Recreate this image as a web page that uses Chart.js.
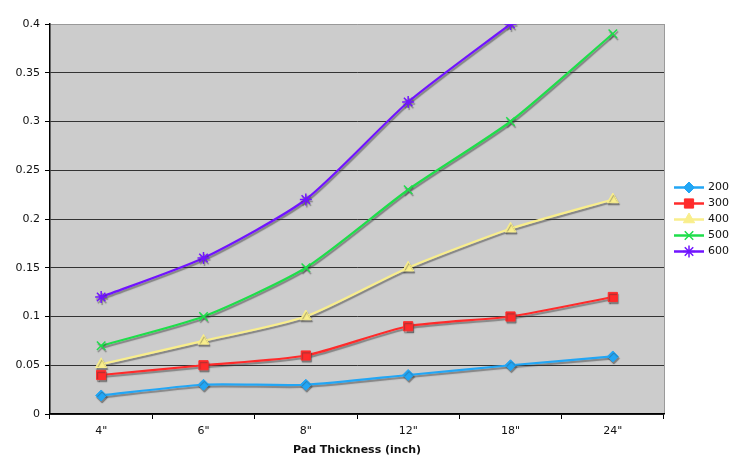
<!DOCTYPE html>
<html>
<head>
<meta charset="utf-8">
<script src="https://cdn.jsdelivr.net/npm/chart.js@4.4.1/dist/chart.umd.min.js"></script>
<style>
  html, body { margin: 0; padding: 0; background: #ffffff; }
  canvas { display: block; }
</style>
</head>
<body>
<canvas id="chart" width="739" height="457"></canvas>
<script>
// Pad thickness categories and measured values per load series
const thicknesses = ['4"', '6"', '8"', '12"', '18"', '24"'];
const series200 = [0.019, 0.03, 0.03, 0.04, 0.05, 0.059];
const series300 = [0.04, 0.05, 0.06, 0.09, 0.1, 0.12];
const series400 = [0.051, 0.075, 0.1, 0.15, 0.19, 0.22];
const series500 = [0.07, 0.1, 0.15, 0.23, 0.3, 0.39];
const series600 = [0.12, 0.16, 0.22, 0.32, 0.4, null];
const seriesNames = ['200', '300', '400', '500', '600'];
const yTickValues = [0, 0.05, 0.1, 0.15, 0.2, 0.25, 0.3, 0.35, 0.4];
const xTitle = 'Pad Thickness (inch)';

const FONT = 'DejaVu Sans, Verdana, sans-serif';

const styles = [
  { color: '#22a6f5', point: 'rectRot',  radius: 5.5, bw: 1 },
  { color: '#ff2b2b', point: 'rect',     radius: 6.5, bw: 1 },
  { color: '#f9ee8c', point: 'triangle', radius: 6.5, bw: 1 },
  { color: '#1ede4a', point: 'crossRot', radius: 6,   bw: 1.5 },
  { color: '#7114ff', point: 'star',     radius: 6,   bw: 1.5 }
];

const allValues = [series200, series300, series400, series500, series600];

const datasets = allValues.map((vals, i) => ({
  label: seriesNames[i],
  data: vals,
  borderColor: styles[i].color,
  backgroundColor: styles[i].color,
  borderWidth: 2.25,
  tension: 0.22,
  pointStyle: styles[i].point,
  pointRadius: styles[i].radius,
  pointHoverRadius: styles[i].radius,
  pointBackgroundColor: styles[i].color,
  pointBorderColor: styles[i].color,
  pointBorderWidth: styles[i].bw,
  spanGaps: false,
  fill: false
}));

// Grey plot background with a light frame on the right
const plotBackground = {
  id: 'plotBackground',
  beforeDraw(chart) {
    const { ctx, chartArea: a } = chart;
    ctx.save();
    ctx.fillStyle = '#cccccc';
    ctx.fillRect(a.left, a.top, a.right - a.left, a.bottom - a.top);
    ctx.strokeStyle = '#9a9a9a';
    ctx.lineWidth = 1;
    ctx.beginPath();
    ctx.moveTo(a.right + 0.5, a.top);
    ctx.lineTo(a.right + 0.5, a.bottom);
    ctx.stroke();
    ctx.restore();
  }
};

// Soft drop shadow under the series lines and markers
const seriesShadow = {
  id: 'seriesShadow',
  beforeDatasetsDraw(chart) {
    const ctx = chart.ctx;
    ctx.save();
    ctx.shadowColor = 'rgba(60,60,60,0.5)';
    ctx.shadowOffsetX = 1;
    ctx.shadowOffsetY = 2;
    ctx.shadowBlur = 1;
  },
  afterDatasetsDraw(chart) {
    chart.ctx.restore();
  }
};

// Legend to the right: a short line segment with the series marker
const sideLegend = {
  id: 'sideLegend',
  afterDraw(chart) {
    const { ctx, chartArea: a } = chart;
    const n = chart.data.datasets.length;
    const rowH = 16;
    const midY = (a.top + a.bottom) / 2;
    const x0 = a.right + 10;
    ctx.save();
    chart.data.datasets.forEach((ds, i) => {
      const y = Math.round(midY + (i - (n - 1) / 2) * rowH) + 0.5;
      ctx.strokeStyle = ds.borderColor;
      ctx.fillStyle = ds.backgroundColor;
      ctx.lineWidth = 2.5;
      ctx.beginPath();
      ctx.moveTo(x0, y);
      ctx.lineTo(x0 + 30, y);
      ctx.stroke();
      ctx.lineWidth = ds.pointBorderWidth;
      Chart.helpers.drawPoint(ctx, {
        pointStyle: ds.pointStyle,
        radius: ds.pointRadius,
        borderWidth: ds.pointBorderWidth,
        rotation: 0
      }, x0 + 15, y);
      ctx.fillStyle = '#111';
      ctx.font = '11px ' + FONT;
      ctx.textAlign = 'left';
      ctx.textBaseline = 'middle';
      ctx.fillText(ds.label, x0 + 34, y);
    });
    ctx.restore();
  }
};

new Chart(document.getElementById('chart'), {
  type: 'line',
  data: { labels: thicknesses, datasets },
  plugins: [plotBackground, seriesShadow, sideLegend],
  options: {
    responsive: false,
    devicePixelRatio: 1,
    animation: false,
    layout: { padding: { top: 24, right: 75, left: 0, bottom: 0 } },
    plugins: {
      legend: { display: false },
      tooltip: { enabled: false }
    },
    scales: {
      x: {
        offset: true,
        grid: {
          offset: true,
          drawOnChartArea: false,
          drawTicks: true,
          tickLength: 5,
          color: '#000'
        },
        border: { color: '#000', width: 1.5 },
        ticks: {
          color: '#111',
          font: { family: FONT, size: 11 },
          padding: 6,
          maxRotation: 0
        },
        title: {
          display: true,
          text: xTitle,
          color: '#111',
          font: { family: FONT, size: 11, weight: 'bold' },
          padding: { top: 0, bottom: 0 }
        },
        afterFit(scale) { scale.height = 43; }
      },
      y: {
        min: 0,
        max: 0.4,
        afterBuildTicks(scale) {
          scale.ticks = yTickValues.map(v => ({ value: v }));
        },
        grid: {
          color: ctx => (ctx.tick && ctx.tick.value >= 0.4 ? '#999' : '#333'),
          lineWidth: 1,
          tickLength: 5,
          tickColor: '#000'
        },
        border: { color: '#000', width: 1.5 },
        ticks: {
          color: '#111',
          font: { family: FONT, size: 11 },
          padding: 5,
          callback: v => String(+(+v).toFixed(2))
        },
        afterFit(scale) { scale.width = 50; }
      }
    }
  }
});
</script>
</body>
</html>
